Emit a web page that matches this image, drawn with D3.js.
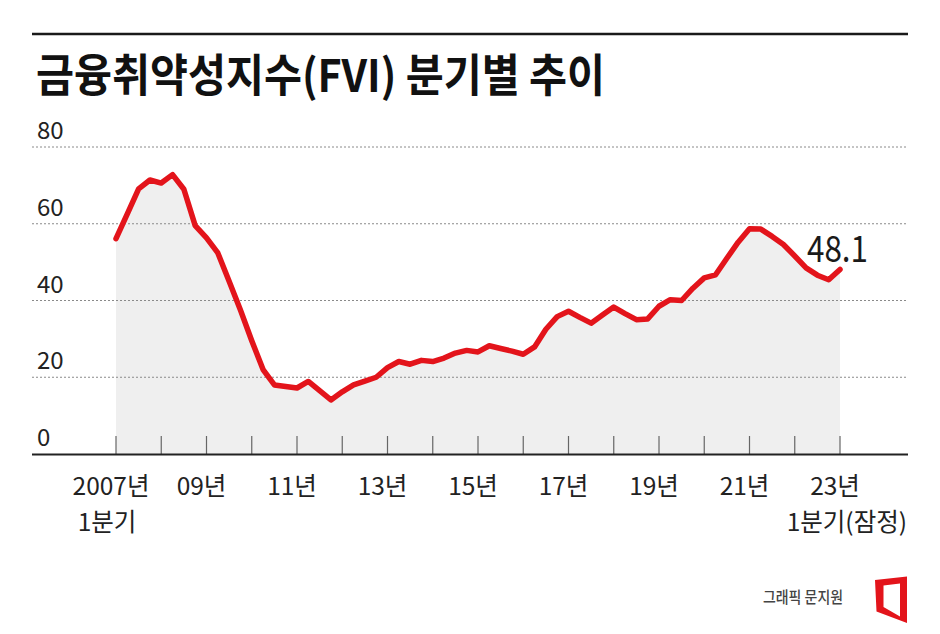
<!DOCTYPE html>
<html><head><meta charset="utf-8">
<script src="https://cdn.jsdelivr.net/npm/d3@7"></script>
<style>
html,body{margin:0;padding:0;background:#fff;}
svg{display:block;}
text{font-family:"Noto Sans CJK KR","Noto Sans",sans-serif;}
</style></head>
<body>
<svg id="c" width="940" height="634"></svg>
<script>
const title = "금융취약성지수(FVI) 분기별 추이";
const startYear = 2007;
const fviValues = [
  56.1, 62.6, 69.1, 71.4, 70.6, 72.8, 69.0, 59.5,
  56.3, 52.4, 45.0, 37.5, 29.5, 22.0, 18.0, 17.6,
  17.2, 18.9, 16.5, 14.1, 16.2, 18.0, 19.0, 20.0,
  22.5, 24.1, 23.4, 24.4, 24.1, 25.0, 26.3, 27.0,
  26.6, 28.2, 27.5, 26.8, 26.0, 27.9, 32.5, 35.8,
  37.2, 35.6, 34.1, 36.2, 38.3, 36.6, 35.0, 35.2,
  38.5, 40.2, 40.0, 43.2, 45.9, 46.7, 51.0, 55.2,
  58.7, 58.6, 56.7, 54.6, 51.6, 48.5, 46.6, 45.4,
  48.1
];
const yTicks = [0, 20, 40, 60, 80];
const xLabelYears = [2007, 2009, 2011, 2013, 2015, 2017, 2019, 2021, 2023];
const xLabels = ["2007년", "09년", "11년", "13년", "15년", "17년", "19년", "21년", "23년"];
const firstSubLabel = "1분기";
const lastSubLabel = "1분기(잠정)";
const lastValueLabel = "48.1";
const source = "그래픽 문지원";

const svg = d3.select("#c");
const n = fviValues.length;
const x = d3.scaleLinear().domain([0, n - 1]).range([116, 840]);
const y = d3.scaleLinear().domain([0, 80]).range([454, 147]);
const qOfYear = yr => (yr - startYear) * 4;

// top rule
svg.append("line").attr("x1", 32).attr("x2", 908).attr("y1", 34).attr("y2", 34)
  .attr("stroke", "#1a1a1a").attr("stroke-width", 2.5);

// title
svg.append("text").attr("x", 36).attr("y", 92)
  .attr("font-size", 45).attr("font-weight", 700).attr("fill", "#111")
  .attr("textLength", 569).attr("lengthAdjust", "spacingAndGlyphs")
  .text(title);

// area
const data = fviValues.map((v, i) => ({i, v}));
svg.append("path").datum(data)
  .attr("fill", "#efefef")
  .attr("d", d3.area().x(d => x(d.i)).y0(y(0)).y1(d => y(d.v)));

// gridlines
svg.append("g").selectAll("line").data(yTicks.filter(t => t > 0)).join("line")
  .attr("x1", 32).attr("x2", 908)
  .attr("y1", d => y(d)).attr("y2", d => y(d))
  .attr("stroke", "#8a8a8a").attr("stroke-width", 1).attr("stroke-dasharray", "2,2");

// y labels
svg.append("g").selectAll("text").data(yTicks).join("text")
  .attr("x", 37).attr("y", d => y(d) - 8)
  .attr("font-size", 24).attr("fill", "#222")
  .text(d => d);

// year ticks
const years = d3.range(startYear, startYear + (n - 1) / 4 + 1);
svg.append("g").selectAll("line").data(years).join("line")
  .attr("x1", d => x(qOfYear(d))).attr("x2", d => x(qOfYear(d)))
  .attr("y1", 436).attr("y2", y(0))
  .attr("stroke", "#666").attr("stroke-width", 1.2);

// baseline
svg.append("line").attr("x1", 32).attr("x2", 908).attr("y1", y(0) + 0.5).attr("y2", y(0) + 0.5)
  .attr("stroke", "#222").attr("stroke-width", 2);

// line
svg.append("path").datum(data)
  .attr("fill", "none").attr("stroke", "#e3141b").attr("stroke-width", 5.5)
  .attr("stroke-linejoin", "round").attr("stroke-linecap", "round")
  .attr("d", d3.line().x(d => x(d.i)).y(d => y(d.v)));

// x labels
svg.append("g").selectAll("text").data(xLabelYears).join("text")
  .attr("x", d => x(qOfYear(d)) - 5).attr("y", 495)
  .attr("text-anchor", "middle").attr("font-size", 24.5).attr("fill", "#222")
  .text((d, i) => xLabels[i]);

svg.append("text").attr("x", x(0) - 9).attr("y", 531)
  .attr("text-anchor", "middle").attr("font-size", 24.5).attr("fill", "#222")
  .text(firstSubLabel);
svg.append("text").attr("x", 907).attr("y", 531)
  .attr("text-anchor", "end").attr("font-size", 24.5).attr("fill", "#222")
  .text(lastSubLabel);

// last value
svg.append("text").attr("x", 807).attr("y", 262)
  .attr("font-size", 37).attr("fill", "#1a1a1a")
  .attr("textLength", 61).attr("lengthAdjust", "spacingAndGlyphs")
  .text(lastValueLabel);

// source
svg.append("text").attr("x", 763).attr("y", 603)
  .attr("font-size", 16).attr("font-weight", 500).attr("fill", "#444")
  .attr("textLength", 80).attr("lengthAdjust", "spacingAndGlyphs")
  .text(source);

// logo
svg.append("path")
  .attr("fill", "#e3141b").attr("fill-rule", "evenodd")
  .attr("d", "M875,580 L907,576.5 L907,623 L876.5,611.5 Z M883.5,585.5 L900,583.5 L900,616.5 L883.5,607 Z");
</script>
</body></html>
